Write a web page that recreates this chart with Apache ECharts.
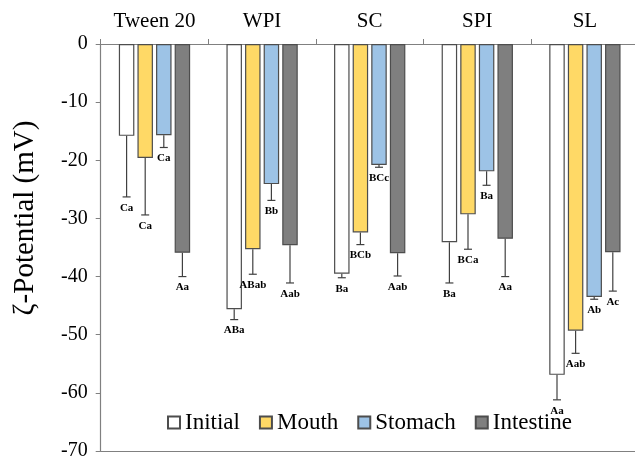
<!DOCTYPE html>
<html>
<head>
<meta charset="utf-8">
<script src="https://cdn.jsdelivr.net/npm/echarts@6/dist/echarts.min.js"></script>
<style>
  html, body { margin: 0; padding: 0; background: #fff; }
  #chart { width: 635px; height: 459px; }
</style>
</head>
<body>
<div id="chart"></div>
<script>
var categories = ['Tween 20', 'WPI', 'SC', 'SPI', 'SL'];
var seriesNames = ['Initial', 'Mouth', 'Stomach', 'Intestine'];

var initialMean = [-15.8, -45.6, -39.5, -34.1, -56.9];
var initialErr = [10.5, 1.8, 0.7, 7.0, 4.3];
var initialLabels = ['Ca', 'ABa', 'Ba', 'Ba', 'Aa'];

var mouthMean = [-19.6, -35.3, -32.4, -29.3, -49.3];
var mouthErr = [9.8, 4.3, 2.1, 6.0, 3.9];
var mouthLabels = ['Ca', 'ABab', 'BCb', 'BCa', 'Aab'];

var stomachMean = [-15.7, -24.1, -20.8, -21.9, -43.5];
var stomachErr = [2.1, 2.8, 0.4, 2.4, 0.4];
var stomachLabels = ['Ca', 'Bb', 'BCc', 'Ba', 'Ab'];

var intestineMean = [-35.9, -34.6, -36.0, -33.5, -35.8];
var intestineErr = [4.1, 6.5, 3.9, 6.5, 6.7];
var intestineLabels = ['Aa', 'Aab', 'Aab', 'Aa', 'Ac'];

var yTicks = { min: -70, max: 0, interval: 10 };

var colors = ['#ffffff', '#ffd966', '#9dc3e6', '#7f7f7f'];
var serif = 'Liberation Serif';

var barWidth = 15.5;
var barGap = 0.2;

function makeBar(i, means) {
  return {
    name: seriesNames[i],
    type: 'bar',
    data: means,
    barWidth: barWidth,
    barGap: (barGap * 100) + '%',
    itemStyle: { color: colors[i], borderColor: '#4d4d4d', borderWidth: 1.2 },
    z: 2
  };
}

// error whisker (downward only) plus significance letters
function makeErr(i, means, errs, labels) {
  var offset = (i - 1.5) * barWidth * (1 + barGap);
  return {
    type: 'custom',
    z: 5,
    clip: false,
    data: means.map(function (m, k) { return [k, m, errs[k]]; }),
    renderItem: function (params, api) {
      var cx = api.coord([api.value(0), 0])[0] + offset;
      var yb = api.coord([api.value(0), api.value(1)])[1];
      var ye = api.coord([api.value(0), api.value(1) - api.value(2)])[1];
      var st = { stroke: '#404040', lineWidth: 1.2 };
      return {
        type: 'group',
        children: [
          { type: 'line', shape: { x1: cx, y1: yb, x2: cx, y2: ye }, style: st },
          { type: 'line', shape: { x1: cx - 4, y1: ye, x2: cx + 4, y2: ye }, style: st },
          {
            type: 'text',
            style: {
              text: labels[params.dataIndex],
              x: cx, y: ye + 11,
              align: 'center', verticalAlign: 'middle',
              font: 'bold 11px "Liberation Serif"',
              fill: '#000'
            }
          }
        ]
      };
    }
  };
}

var chart = echarts.init(document.getElementById('chart'));

var option = {
  animation: false,
  backgroundColor: '#fff',
  grid: { left: 100.7, right: -3.7, top: 44, bottom: 8, outerBoundsMode: 'none' },
  legend: {
    data: seriesNames,
    left: 162,
    top: 406,
    icon: 'rect',
    itemWidth: 12,
    itemHeight: 12,
    itemGap: 19,
    textStyle: { fontFamily: serif, fontSize: 23, color: '#000' }
  },
  graphic: [{
    type: 'text',
    x: 25, y: 218,
    rotation: Math.PI / 2,
    style: {
      text: 'ζ-Potential (mV)',
      font: '29px "Liberation Serif"',
      fill: '#000',
      align: 'center',
      verticalAlign: 'middle'
    }
  }],
  xAxis: [{
    type: 'category',
    position: 'top',
    data: categories,
    axisLine: { onZero: false, lineStyle: { color: '#808080', width: 1.2 } },
    axisTick: { show: true, length: 5, lineStyle: { color: '#808080' } },
    axisLabel: { fontFamily: serif, fontSize: 21, color: '#000', margin: 12 }
  }, {
    type: 'category',
    position: 'bottom',
    data: categories,
    axisLine: { onZero: false, lineStyle: { color: '#808080', width: 1.2 } },
    axisTick: { show: false },
    axisLabel: { show: false }
  }],
  yAxis: {
    type: 'value',
    min: yTicks.min,
    max: yTicks.max,
    interval: yTicks.interval,
    splitLine: { show: false },
    axisLine: { show: true, lineStyle: { color: '#808080', width: 1.2 } },
    axisTick: { show: true, length: 5, lineStyle: { color: '#808080' } },
    axisLabel: { fontFamily: serif, fontSize: 20, color: '#000', margin: 13 }
  },
  series: [
    makeBar(0, initialMean),
    makeBar(1, mouthMean),
    makeBar(2, stomachMean),
    makeBar(3, intestineMean),
    makeErr(0, initialMean, initialErr, initialLabels),
    makeErr(1, mouthMean, mouthErr, mouthLabels),
    makeErr(2, stomachMean, stomachErr, stomachLabels),
    makeErr(3, intestineMean, intestineErr, intestineLabels)
  ]
};

chart.setOption(option);
</script>
</body>
</html>
